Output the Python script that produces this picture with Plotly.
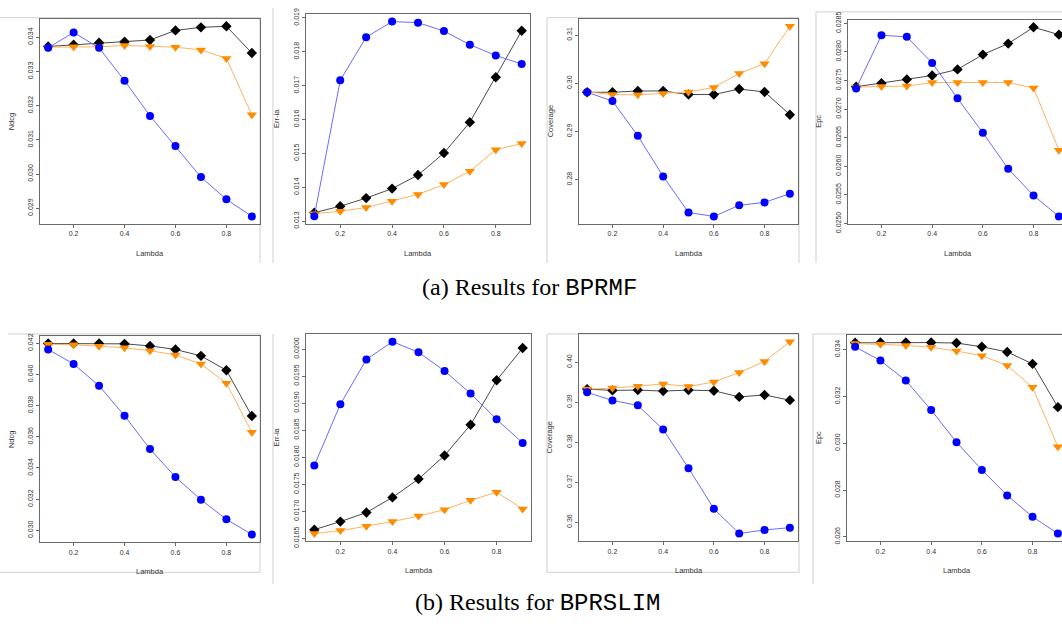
import plotly.graph_objects as go

W, H = 1062, 630

lambdas = [0.1, 0.2, 0.3, 0.4, 0.5, 0.6, 0.7, 0.8, 0.9]
lambda_ticks = [0.2, 0.4, 0.6, 0.8]
lambda_tick_text = ["0.2", "0.4", "0.6", "0.8"]

metric_names = ["Ndcg", "Err-ia", "Coverage", "Epc"]

# ---- BPRMF ----
mf_ndcg_diamond = [0.03373, 0.03378, 0.03384, 0.03387, 0.03392, 0.03420, 0.03429, 0.03432, 0.03354]
mf_ndcg_triangle = [0.03371, 0.03372, 0.03372, 0.03376, 0.03373, 0.03371, 0.03363, 0.03338, 0.03173]
mf_ndcg_circle = [0.03369, 0.03414, 0.03369, 0.03273, 0.03170, 0.03082, 0.02991, 0.02926, 0.02876]

mf_erria_diamond = [0.01325, 0.01344, 0.01368, 0.01396, 0.01436, 0.01501, 0.01592, 0.01725, 0.01862]
mf_erria_triangle = [0.01322, 0.01329, 0.01340, 0.01359, 0.01379, 0.01408, 0.01447, 0.01511, 0.01529]
mf_erria_circle = [0.013145, 0.01716, 0.01843, 0.01889, 0.01886, 0.01861, 0.01821, 0.01789, 0.01764]

mf_cov_diamond = [0.29813, 0.29813, 0.29840, 0.29840, 0.29766, 0.29766, 0.29880, 0.29820, 0.29348]
mf_cov_triangle = [0.29820, 0.29766, 0.29760, 0.29790, 0.29820, 0.29914, 0.30204, 0.30407, 0.31182]
mf_cov_circle = [0.29813, 0.29631, 0.28910, 0.28067, 0.27318, 0.27237, 0.27467, 0.27528, 0.27709]

mf_epc_diamond = [0.027392, 0.027453, 0.027520, 0.027588, 0.027695, 0.027954, 0.028146, 0.028432, 0.028303]
mf_epc_triangle = [0.027386, 0.027397, 0.027403, 0.027465, 0.027465, 0.027465, 0.027465, 0.027370, 0.026283]
mf_epc_circle = [0.027363, 0.028292, 0.028264, 0.027808, 0.027189, 0.026587, 0.025957, 0.025490, 0.025124]

# ---- BPRSLIM ----
slim_ndcg_diamond = [0.04198, 0.04198, 0.04198, 0.04196, 0.04183, 0.04160, 0.04119, 0.04027, 0.03733]
slim_ndcg_triangle = [0.04194, 0.04190, 0.04181, 0.04171, 0.04152, 0.04125, 0.04067, 0.03944, 0.03629]
slim_ndcg_circle = [0.04160, 0.04067, 0.03927, 0.03735, 0.03521, 0.03342, 0.03196, 0.03071, 0.02973]

slim_erria_diamond = [0.016661, 0.016810, 0.016977, 0.017257, 0.017597, 0.018032, 0.018599, 0.019422, 0.020018]
slim_erria_triangle = [0.016589, 0.016643, 0.016726, 0.016810, 0.016911, 0.017031, 0.017204, 0.017353, 0.017043]
slim_erria_circle = [0.017848, 0.018980, 0.019809, 0.020137, 0.019940, 0.019595, 0.019177, 0.018700, 0.018265]

slim_cov_diamond = [0.39325, 0.39293, 0.39301, 0.39276, 0.39301, 0.39285, 0.39130, 0.39179, 0.39049]
slim_cov_triangle = [0.39325, 0.39350, 0.39398, 0.39455, 0.39390, 0.39504, 0.39740, 0.40016, 0.40512]
slim_cov_circle = [0.39244, 0.39041, 0.38919, 0.38317, 0.37350, 0.36333, 0.35715, 0.35805, 0.35862]

slim_epc_diamond = [0.03429, 0.03430, 0.03430, 0.03430, 0.03428, 0.03412, 0.03390, 0.03339, 0.03154]
slim_epc_triangle = [0.03426, 0.03423, 0.03418, 0.03410, 0.03394, 0.03374, 0.03332, 0.03239, 0.02985]
slim_epc_circle = [0.03412, 0.03353, 0.03268, 0.03142, 0.03004, 0.02886, 0.02777, 0.02686, 0.02614]

captions = ["(a) Results for <span style='font-family:Liberation Mono'>BPRMF</span>",
            "(b) Results for <span style='font-family:Liberation Mono'>BPRSLIM</span>"]

# panel boxes in pixels: left, right, top, bottom
panels = [
    dict(series=(mf_ndcg_diamond, mf_ndcg_triangle, mf_ndcg_circle), name=metric_names[0],
         box=(40, 260, 11, 222), dtick=0.001, fmt=".3f"),
    dict(series=(mf_erria_diamond, mf_erria_triangle, mf_erria_circle), name=metric_names[1],
         box=(306, 530, 6, 222), dtick=0.001, fmt=".3f"),
    dict(series=(mf_cov_diamond, mf_cov_triangle, mf_cov_circle), name=metric_names[2],
         box=(579, 798, 11, 222), dtick=0.01, fmt=".2f"),
    dict(series=(mf_epc_diamond, mf_epc_triangle, mf_epc_circle), name=metric_names[3],
         box=(848, 1067, 12, 222), dtick=0.0005, fmt=".4f"),
    dict(series=(slim_ndcg_diamond, slim_ndcg_triangle, slim_ndcg_circle), name=metric_names[0],
         box=(40, 260, 337, 549), dtick=0.002, fmt=".3f"),
    dict(series=(slim_erria_diamond, slim_erria_triangle, slim_erria_circle), name=metric_names[1],
         box=(306, 531, 335, 548), dtick=0.0005, fmt=".4f"),
    dict(series=(slim_cov_diamond, slim_cov_triangle, slim_cov_circle), name=metric_names[2],
         box=(579, 798, 335, 548), dtick=0.01, fmt=".2f"),
    dict(series=(slim_epc_diamond, slim_epc_triangle, slim_epc_circle), name=metric_names[3],
         box=(847, 1066, 336, 548), dtick=0.002, fmt=".3f"),
]

styles = [
    dict(line="#4a4a4a", marker="#000000", symbol="diamond", size=8),
    dict(line="#ffb25e", marker="#ff8c00", symbol="triangle-down", size=9),
    dict(line="#6b6bff", marker="#0000ff", symbol="circle", size=8),
]

AXIS_COLOR = "#6a6a6a"
TEXT_COLOR = "#333333"
FONT = "Liberation Sans, Arial, sans-serif"


def px_x(v):
    return v / W


def px_y(v):
    return 1 - v / H


def padded(lo, hi, frac=0.04):
    span = hi - lo
    return lo - frac * span, hi + frac * span


fig = go.Figure()
annotations = []
shapes = []

x_lo, x_hi = padded(min(lambdas), max(lambdas))

for i, p in enumerate(panels, start=1):
    left, right, top, bottom = p["box"]
    xa = "x" if i == 1 else f"x{i}"
    ya = "y" if i == 1 else f"y{i}"
    for vals, st in zip(p["series"], styles):
        fig.add_trace(go.Scatter(
            x=lambdas, y=vals, mode="lines+markers", xaxis=xa, yaxis=ya,
            line=dict(color=st["line"], width=1),
            marker=dict(color=st["marker"], symbol=st["symbol"], size=st["size"],
                        line=dict(width=0)),
            showlegend=False, hoverinfo="x+y",
        ))

    all_vals = [v for s in p["series"] for v in s]
    y_lo, y_hi = padded(min(all_vals), max(all_vals))

    # panels on the right edge run past the page; keep the same scale and cut the range
    vis_right = min(right, W)
    xr_hi = x_lo + (x_hi - x_lo) * (vis_right - left) / (right - left)
    cut = right > W

    xkey = "xaxis" if i == 1 else f"xaxis{i}"
    ykey = "yaxis" if i == 1 else f"yaxis{i}"
    fig.layout[xkey] = dict(
        domain=[px_x(left), px_x(vis_right)], anchor=ya, range=[x_lo, xr_hi],
        tickvals=lambda_ticks, ticktext=lambda_tick_text,
        showline=True, mirror=True, linecolor=AXIS_COLOR, linewidth=1,
        ticks="outside", ticklen=3, tickcolor=AXIS_COLOR, tickwidth=1,
        showgrid=False, zeroline=False,
        tickfont=dict(family=FONT, size=7, color=TEXT_COLOR),
    )
    fig.layout[ykey] = dict(
        domain=[px_y(bottom), px_y(top)], anchor=xa, range=[y_lo, y_hi],
        tick0=0, dtick=p["dtick"], tickformat=p["fmt"], tickangle=-90,
        showline=True, mirror=not cut, linecolor=AXIS_COLOR, linewidth=1,
        ticks="outside", ticklen=3, tickcolor=AXIS_COLOR, tickwidth=1,
        showgrid=False, zeroline=False,
        tickfont=dict(family=FONT, size=7, color=TEXT_COLOR),
    )

    # axis titles
    annotations.append(dict(
        text="Lambda", xref="paper", yref="paper",
        x=px_x((left + right) / 2), y=px_y(bottom + 30), showarrow=False,
        font=dict(family=FONT, size=7.5, color=TEXT_COLOR), xanchor="center", yanchor="middle",
    ))
    annotations.append(dict(
        text=p["name"], xref="paper", yref="paper",
        x=px_x(left - 29), y=px_y((top + bottom) / 2), textangle=-90, showarrow=False,
        font=dict(family=FONT, size=7.5, color=TEXT_COLOR), xanchor="center", yanchor="middle",
    ))

# captions
for text, cx, cy in zip(captions, (529, 537), (288, 611)):
    annotations.append(dict(
        text=text, xref="paper", yref="paper", x=px_x(cx), y=px_y(cy), showarrow=False,
        font=dict(family="Liberation Serif, Times New Roman, serif", size=24, color="#000000"),
        xanchor="center", yanchor="middle",
    ))

# light frames around each panel image
FRAME = "#cfcfcf"
frame_segments = [
    (0, 10, 260, 10), (260, 10, 260, 262),
    (273, 0, 273, 262),
    (547, 10, 799, 10), (547, 10, 547, 262), (799, 10, 799, 262),
    (816, 4, 1062, 4), (816, 4, 816, 262),
    (8, 335, 260, 335), (260, 335, 260, 580), (0, 580, 260, 580),
    (273, 335, 273, 592),
    (547, 335, 799, 335), (547, 335, 547, 580), (547, 580, 799, 580), (799, 335, 799, 580),
    (813, 335, 1062, 335), (813, 335, 813, 592),
]
for x0, y0, x1, y1 in frame_segments:
    shapes.append(dict(type="line", xref="paper", yref="paper",
                       x0=px_x(x0), y0=px_y(y0), x1=px_x(x1), y1=px_y(y1),
                       line=dict(color=FRAME, width=1), layer="below"))

fig.update_layout(
    width=W, height=H, margin=dict(l=0, r=0, t=0, b=0),
    paper_bgcolor="white", plot_bgcolor="white",
    annotations=annotations, shapes=shapes, showlegend=False,
)

fig.write_html("out.html")
